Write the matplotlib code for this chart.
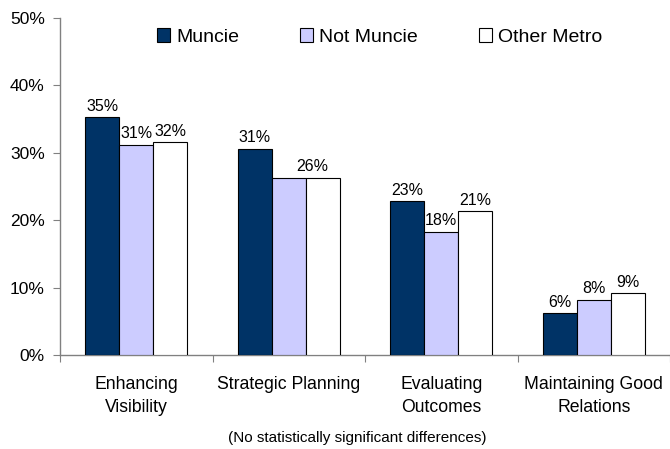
import matplotlib
matplotlib.use("Agg")
import matplotlib.pyplot as plt
from matplotlib.patches import Patch
import numpy as np

categories = ["Enhancing\nVisibility", "Strategic Planning", "Evaluating\nOutcomes", "Maintaining Good\nRelations"]
series_names = ["Muncie", "Not Muncie", "Other Metro"]
muncie = [35.3, 30.6, 22.8, 6.2]
not_muncie = [31.2, 26.3, 18.3, 8.2]
other_metro = [31.6, 26.3, 21.3, 9.2]
yticks = [0, 10, 20, 30, 40, 50]
footnote = "(No statistically significant differences)"

colors = ["#003366", "#CCCCFF", "#FFFFFF"]
plt.rcParams['font.family'] = ['Liberation Sans', 'DejaVu Sans']

fig = plt.figure(figsize=(6.70, 4.49), dpi=100)
ax = fig.add_axes([60/670, (449-355)/449, 610/670, (355-18)/449])

n = len(categories)
x = np.arange(n) + 0.5
w = 0.223
series = [muncie, not_muncie, other_metro]
for i, (vals, c) in enumerate(zip(series, colors)):
    pos = x + (i - 1) * w
    bars = ax.bar(pos, vals, width=w, color=c, edgecolor="black", linewidth=0.8, zorder=3)
    for j, (b, v) in enumerate(zip(bars, vals)):
        # in the reference the two identical adjacent labels collapse into one
        if i == 2 and round(v) == round(not_muncie[j]) and abs(v - not_muncie[j]) < 0.05:
            continue
        dx = 0
        if i == 1 and round(v) == round(other_metro[j]) and abs(v - other_metro[j]) < 0.05:
            dx = 17
        ax.annotate(f"{round(v)}%", (b.get_x() + b.get_width()/2, v),
                    xytext=(dx, 2.5), textcoords="offset points",
                    ha="center", va="bottom", fontsize=11.5)

ax.set_xlim(0, n)
ax.set_ylim(0, 50)
ax.set_yticks(yticks)
ax.set_yticklabels([f"{t}%" for t in yticks], fontsize=12.5)
ax.set_xticks(np.arange(n + 1))
ax.set_xticklabels([])
ax.set_xticks(x, minor=True)
ax.set_xticklabels(categories, minor=True, fontsize=12.7, linespacing=1.45, va="top")
ax.tick_params(axis="x", which="minor", length=0, pad=15)
ax.tick_params(axis="x", which="major", length=5, color="#808080", direction="out")
ax.tick_params(axis="y", length=5, color="#808080", pad=6)

for s in ["top", "right"]:
    ax.spines[s].set_visible(False)
for s in ["left", "bottom"]:
    ax.spines[s].set_color("#808080")
    ax.spines[s].set_linewidth(1.0)

handles = [Patch(facecolor=c, edgecolor="black", linewidth=0.8) for c in colors]
fig.legend(handles, series_names, loc="center left",
           bbox_to_anchor=(157/670, 1 - 37/449), ncol=3, frameon=False,
           fontsize=14, handlelength=0.67, handleheight=0.67,
           handletextpad=0.31, columnspacing=3.15, borderpad=0, borderaxespad=0)

fig.text(357/670, 1 - 438/449, footnote, ha="center", va="center", fontsize=11)

fig.savefig("out.png", dpi=100)
